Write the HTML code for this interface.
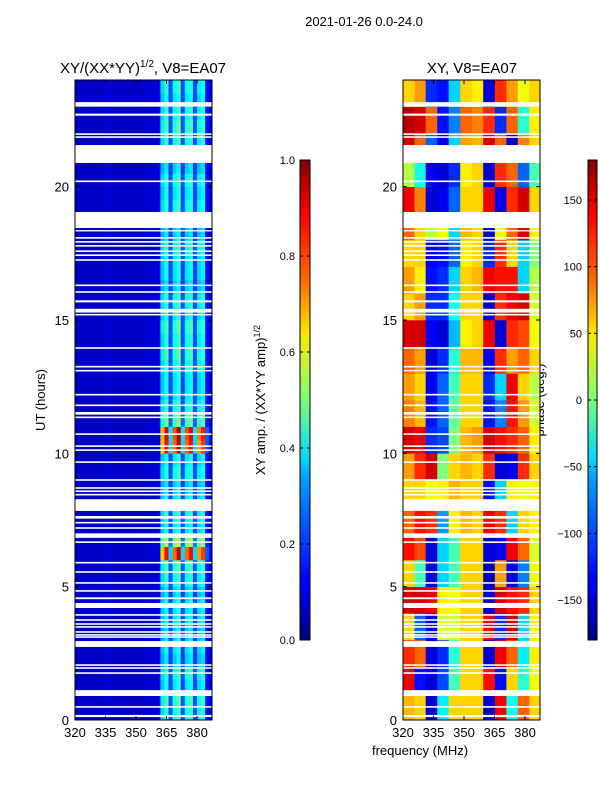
<!DOCTYPE html>
<html><head><meta charset="utf-8"><style>
html,body{margin:0;padding:0;background:#fff;}
svg{display:block;font-family:"Liberation Sans","DejaVu Sans",sans-serif;}
</style></head><body>
<svg id="chart" width="600" height="800" viewBox="0 0 600 800">
<text x="364" y="26" font-size="13" text-anchor="middle">2021-01-26 0.0-24.0</text>
<text x="143" y="73" font-size="15" text-anchor="middle">XY/(XX*YY)<tspan font-size="10" dy="-6">1/2</tspan><tspan dy="6">, V8=EA07</tspan></text>
<text x="472" y="73" font-size="15" text-anchor="middle">XY, V8=EA07</text>
<text transform="translate(45,400) rotate(-90)" font-size="13" text-anchor="middle">UT (hours)</text>
<text x="420" y="755" font-size="13" text-anchor="middle">frequency (MHz)</text>
<text transform="translate(265,400) rotate(-90)" font-size="13" text-anchor="middle">XY amp. / (XX*YY amp)<tspan font-size="9" dy="-5">1/2</tspan></text>
<text transform="translate(544,400) rotate(-90)" font-size="13" text-anchor="middle">phase (deg.)</text>
<g id="ampPanel"></g>
<g id="phasePanel"></g>
<g id="axes"></g>
<defs>
<linearGradient id="jet" x1="0" y1="1" x2="0" y2="0">
<stop offset="0" stop-color="#00007f"/><stop offset="0.11" stop-color="#0000ff"/><stop offset="0.125" stop-color="#0000ff"/>
<stop offset="0.34" stop-color="#00a0ff"/><stop offset="0.375" stop-color="#00d4ff"/><stop offset="0.5" stop-color="#7dff7a"/>
<stop offset="0.64" stop-color="#ffe600"/><stop offset="0.75" stop-color="#ff6800"/><stop offset="0.89" stop-color="#ff0000"/><stop offset="1" stop-color="#7f0000"/>
</linearGradient>
</defs>
<rect x="300" y="160" width="10" height="480" fill="url(#jet)" stroke="#000" stroke-width="1"/>
<rect x="588" y="160" width="9" height="480" fill="url(#jet)" stroke="#000" stroke-width="1"/>
<g id="cbticks"></g>
</svg>
<script>
// ---- data ----
const freqEdges = [320,322,324,326,328,330,332,334,336,338,340,342,344,346,348,350,352,354,356,358,360,362,364,366,368,370,372,374,376,378,380,382,384,386,388];
const ampChannelFloor = [0.07,0.07,0.07,0.07,0.07,0.07,0.07,0.08,0.08,0.07,0.07,0.07,0.07,0.07,0.07,0.07,0.07,0.07,0.08,0.08,0.09,0.1,0.1,0.1,0.1,0.1,0.1,0.1,0.1,0.1,0.1,0.1,0.09,0.08];
const ampChannelBand = [0,0,0,0,0,0,0,0,0,0,0,0,0,0,0,0,0,0,0,0,0,0.24,0.32,0.1,0.28,0.34,0.1,0.28,0.32,0.1,0.26,0.3,0.05,0.02];
// half-hour gain, index 0 = 0.0-0.5h
const ampRowGain = [1.0,1.1,0.9,1.0,0.8,0.9,0.8,0.9,0.9,0.8,1.0,1.1,2.4,1.4,0.9,1.0,0.9,0.8,1.0,0.9,2.4,2.5,1.2,1.0,0.9,0.9,1.0,1.1,1.0,1.1,0.9,1.0,0.8,0.9,0.9,1.0,0.8,0.9,1.0,0.9,1.0,0.8,0.9,1.0,1.1,1.0,0.9,1.0];
const phaseColCenters = [322.8,328.5,334,339.7,345.3,351,356.7,362.3,368,373.7,379.3,385];
const phaseRows = [
[70,60,-150,-50,60,60,60,-150,140,-40,100,60],
[140,-130,-150,-110,-20,60,60,130,-130,60,-30,40],
[120,100,-150,-120,-30,60,60,-150,140,100,-50,50],
[60,-100,-140,30,30,60,60,140,-120,150,-60,50],
[150,150,140,50,40,60,60,-150,150,130,120,60],
[60,-20,-150,-60,-20,60,60,-160,80,-150,-90,40],
[130,110,-150,-60,-20,60,60,-150,-140,140,100,30],
[100,130,120,-80,50,70,60,140,120,-60,60,50],
[60,60,40,50,70,60,60,-130,-60,50,40,50],
[80,120,150,0,60,70,60,120,-150,-140,120,60],
[150,140,-120,-110,0,70,80,150,130,120,100,50],
[90,70,-130,-100,-10,60,60,-130,-90,130,80,30],
[80,60,-140,-100,-20,60,60,-120,-60,140,60,20],
[100,80,-150,-120,-30,70,70,-140,120,80,100,60],
[150,150,-140,-150,-70,50,60,140,-150,120,110,40],
[60,80,-120,-120,-40,60,60,-150,120,140,150,30],
[80,50,-130,-120,-60,60,70,140,130,130,-60,20],
[60,60,-140,-130,-100,50,60,-120,120,60,-60,0],
[100,60,20,40,-60,70,60,-150,40,100,150,50],
[140,90,-150,-140,-100,60,60,140,-140,120,150,60],
[20,-40,-140,-150,-120,50,60,-150,120,100,-100,-20],
[150,100,-100,-140,-60,80,70,150,100,-150,90,60],
[160,150,100,-130,-90,100,90,120,-120,100,-30,50],
[60,80,-120,-130,-60,60,50,-150,120,80,40,60]];
const flagStarts = [23.0,22.66,21.94,21.83,20.89,20.17,18.45,18.32,18.05,17.9,17.75,17.55,17.4,17.22,16.27,16.02,15.66,15.28,15.17,13.92,13.22,13.07,12.17,11.77,11.45,11.32,10.69,10.24,10.09,9.64,8.97,8.67,8.55,8.42,7.84,7.55,7.37,7.17,6.83,6.64,5.87,5.52,5.11,4.81,4.53,4.2,3.91,3.72,3.57,3.46,3.27,3.16,3.08,2.74,2.03,1.92,1.73,0.9,0.46,0.11];
const flagEnds   = [23.17,22.74,22.0,21.89,21.56,20.23,19.05,18.37,18.11,17.96,17.81,17.61,17.46,17.28,16.33,16.08,15.74,15.42,15.23,13.98,13.28,13.13,12.23,11.83,11.55,11.38,10.75,10.3,10.15,9.7,9.03,8.73,8.61,8.48,8.28,7.65,7.43,7.23,7.0,6.7,5.93,5.58,5.17,4.87,4.6,4.39,3.97,3.78,3.63,3.52,3.33,3.22,3.14,2.96,2.09,1.98,1.79,1.12,0.52,0.19];
const yTicks = [0,5,10,15,20];
const xTicks = [320,335,350,365,380];
const ampCbTicks = [0.0,0.2,0.4,0.6,0.8,1.0];
const phaseCbTicks = [-150,-100,-50,0,50,100,150];

// ---- scales ----
const Y0=720,Y1=80,H0=0,H1=24;
function yS(h){return Y0-(h-H0)/(H1-H0)*(Y0-Y1);}
function xL(f){return 75+(f-320)*122/60;}
function xR(f){return 403+(f-320)*122/60;}
const PW=137;
function jet(v){v=Math.max(0,Math.min(1,v));
  const c=x=>Math.max(0,Math.min(1,x));
  const r=c(1.5-Math.abs(4*v-3)),g=c(1.5-Math.abs(4*v-2)),b=c(1.5-Math.abs(4*v-1));
  return `rgb(${Math.round(r*255)},${Math.round(g*255)},${Math.round(b*255)})`;}
const NS='http://www.w3.org/2000/svg';
function mk(tag,attrs,parent){const e=document.createElementNS(NS,tag);for(const k in attrs)e.setAttribute(k,attrs[k]);parent.appendChild(e);return e;}

// ---- amplitude heatmap ----
const ap=document.getElementById('ampPanel');
const ca=mk('clipPath',{id:'clipA'},ap);mk('rect',{x:75,y:80,width:PW,height:640},ca);
const ag=mk('g',{'clip-path':'url(#clipA)'},ap);
for(let r=0;r<ampRowGain.length;r++){
  const h0=r*0.5,h1=h0+0.5;
  for(let c=0;c<ampChannelFloor.length;c++){
    const v=ampChannelFloor[c]+ampChannelBand[c]*ampRowGain[r];
    const x=xL(freqEdges[c]),x2=xL(freqEdges[c+1]);
    const el=mk('rect',{x:x,y:yS(h1),width:x2-x+0.3,height:yS(h0)-yS(h1)+0.3,fill:jet(v)},ag);
    
    
  }
}
// ---- phase heatmap ----
const pp=document.getElementById('phasePanel');
const cp=mk('clipPath',{id:'clipP'},pp);mk('rect',{x:403,y:80,width:PW,height:640},cp);
const pg=mk('g',{'clip-path':'url(#clipP)'},pp);
const colW=phaseColCenters[1]-phaseColCenters[0];
for(let r=0;r<phaseRows.length;r++){
  for(let c=0;c<phaseColCenters.length;c++){
    const f0=phaseColCenters[c]-colW/2,f1=phaseColCenters[c]+colW/2;
    const v=(phaseRows[r][c]+180)/360;
    const el=mk('rect',{x:xR(f0),y:yS(r+1),width:xR(f1)-xR(f0)+0.3,height:yS(r)-yS(r+1)+0.3,fill:jet(v)},pg);
    
    
  }
}
// ---- flags (white gaps) ----
[[75,ag],[403,pg]].forEach(([x0,g])=>{
  for(let i=0;i<flagStarts.length;i++){
    const el=mk('rect',{x:x0,y:yS(flagEnds[i]),width:PW,height:yS(flagStarts[i])-yS(flagEnds[i]),fill:'#fff'},g);
    
    
  }
});
// ---- axes ----
const ax=document.getElementById('axes');
[[75,xL],[403,xR]].forEach(([x0,xs],pi)=>{
  const fr=mk('rect',{x:x0,y:80,width:PW,height:640,fill:'none',stroke:'#000','stroke-width':1},ax);
  
  
  yTicks.forEach(t=>{
    const y=yS(t);
    mk('line',{x1:x0,x2:x0+4,y1:y,y2:y,stroke:'#000'},ax);
    mk('line',{x1:x0+PW-4,x2:x0+PW,y1:y,y2:y,stroke:'#000'},ax);
    const tx=mk('text',{x:x0-6,y:y+5,'font-size':13,'text-anchor':'end'},ax);
    tx.textContent=t;
    
    
  });
  xTicks.forEach(t=>{
    const x=xs(t);
    mk('line',{x1:x,x2:x,y1:720,y2:716,stroke:'#000'},ax);
    mk('line',{x1:x,x2:x,y1:80,y2:84,stroke:'#000'},ax);
    const tx=mk('text',{x:x,y:737,'font-size':13,'text-anchor':'middle'},ax);
    tx.textContent=t;
    
    
  });
});
// ---- colorbar ticks ----
const cb=document.getElementById('cbticks');
ampCbTicks.forEach(t=>{
  const y=640-t*480;
  mk('line',{x1:300,x2:303,y1:y,y2:y,stroke:'#000'},cb);
  mk('line',{x1:307,x2:310,y1:y,y2:y,stroke:'#000'},cb);
  const tx=mk('text',{x:295,y:y+4,'font-size':11,'text-anchor':'end'},cb);
  tx.textContent=t.toFixed(1);
  
  
});
phaseCbTicks.forEach(t=>{
  const y=640-(t+180)/360*480;
  mk('line',{x1:588,x2:591,y1:y,y2:y,stroke:'#000'},cb);
  mk('line',{x1:594,x2:597,y1:y,y2:y,stroke:'#000'},cb);
  const tx=mk('text',{x:582,y:y+4,'font-size':11,'text-anchor':'end'},cb);
  tx.textContent=t<0?'\u2212'+(-t):String(t);
  
  
});
</script>
</body></html>
